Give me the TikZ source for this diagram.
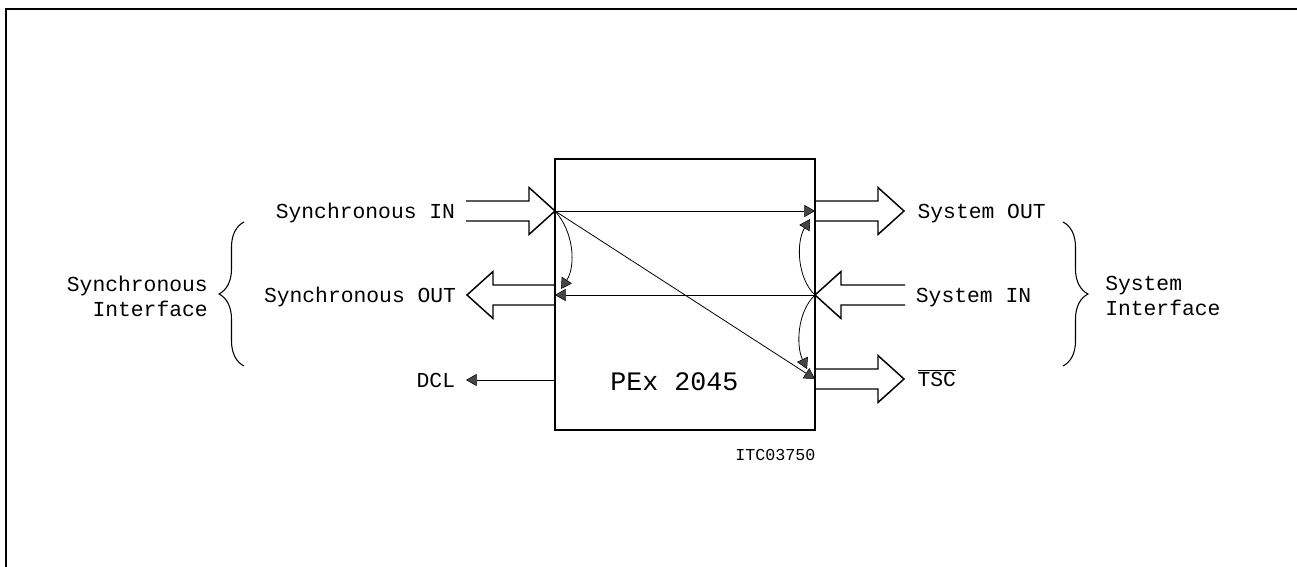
\documentclass[tikz,border=0pt]{standalone}
\usepackage{fontspec}
\setmainfont{Liberation Mono}
\usetikzlibrary{arrows.meta,decorations.pathreplacing,calc}

% open-tailed block arrow, horizontal, from #1 (tail) to #2 (tip)
\newcommand{\bigarrow}[2]{%
  \draw[bigarr] let \p1=(#1), \p2=(#2), \n1={((\x2>\x1)*2-1)*19.5} in
    (\x1,\y2+7.5pt) -- (\x2-\n1,\y2+7.5pt) -- (\x2-\n1,\y2+17.6pt) -- (\x2,\y2)
    -- (\x2-\n1,\y2-17.6pt) -- (\x2-\n1,\y2-7.5pt) -- (\x1,\y2-7.5pt);}

\begin{document}
\begin{tikzpicture}[x=0.75pt,y=0.75pt,yscale=-1,xscale=1,
  chip/.style={draw, line width=1.6pt, minimum width=195pt, minimum height=203.25pt, inner sep=0pt, outer sep=0pt},
  lbl/.style={font=\fontsize{16}{19}\selectfont, text height=10.5pt, text depth=0pt, inner xsep=8pt, inner ysep=0pt},
  side/.style={font=\fontsize{16}{18.75}\selectfont, inner sep=0pt},
  bigarr/.style={line width=1.1pt, line join=miter},
  thinarr/.style={line width=0.6pt, -{Triangle[length=8pt,width=9pt,fill=gray!55!black,line width=0.4pt]}},
  brace/.style={line width=0.8pt, decorate, decoration={brace, amplitude=18.75pt}}]
\useasboundingbox (0,0) rectangle (1297,567);

%Frame
\draw [line width=1.1pt] (6,567) -- (6,9) -- (1297,9) ;

%Shape: Chip
\node [chip] (pex) at (685,294.5) {};
\coordinate (sinport) at (555,211);
\coordinate (soutport) at (555,295);
\coordinate (dclport) at (555,380);
\coordinate (yoport) at (815,211);
\coordinate (yiport) at (815,295);
\coordinate (tscport) at (815,379);

% Text Node
\node [lbl, anchor=east] (synin) at (466,211) {Synchronous IN};
% Text Node
\node [lbl, anchor=east] (synout) at (467,295) {Synchronous OUT};
% Text Node
\node [lbl, anchor=east] (dcl) at (466,380) {DCL};
% Text Node
\node [lbl, anchor=west, inner xsep=10pt] (sysout) at (904,211) {System OUT};
% Text Node
\node [lbl, anchor=west, inner xsep=8pt] (sysin) at (905,295) {System IN};
% Text Node
\node [lbl, anchor=west, inner xsep=10pt] (tsc) at (904,379) {$\overline{\mbox{TSC}}$};

%Block Arrows
\bigarrow{synin.east}{sinport}
\bigarrow{soutport}{synout.east}
\bigarrow{yoport}{sysout.west}
\bigarrow{sysin.west}{yiport}
\bigarrow{tscport}{tsc.west}

%Straight Lines
\draw [thinarr] (dclport) -- (dcl.east) ;
\draw [thinarr] (sinport) -- (yoport) ;
\draw [thinarr] (sinport) -- (tscport) ;
\draw [thinarr] (yiport) -- (soutport) ;

%Curve Lines
\draw [thinarr] (sinport) .. controls (574,232) and (576,266) .. (561,289) ;
\draw [thinarr] (yiport) .. controls (797,278) and (796,242) .. (810,219) ;
\draw [thinarr] (yiport) .. controls (797,312) and (796,346) .. (807,369) ;

%Braces
\draw [brace] (244,366) -- (244,222) ;
\draw [brace] (1063,222) -- (1063,366) ;
% Text Node
\node [side, anchor=east, align=right] (synif) at (208,296) {Synchronous\\Interface};
% Text Node
\node [side, anchor=west, align=left] (sysif) at (1105,296) {System\\Interface};

% Text Node
\node [font=\fontsize{20}{24}\selectfont, anchor=base west, inner sep=0pt] (name) at (610,390) {PEx 2045};
% Text Node
\node [font=\fontsize{12.5}{15}\selectfont, anchor=base west, inner sep=0pt] (fig) at (735,460) {ITC03750};

\end{tikzpicture}
\end{document}
